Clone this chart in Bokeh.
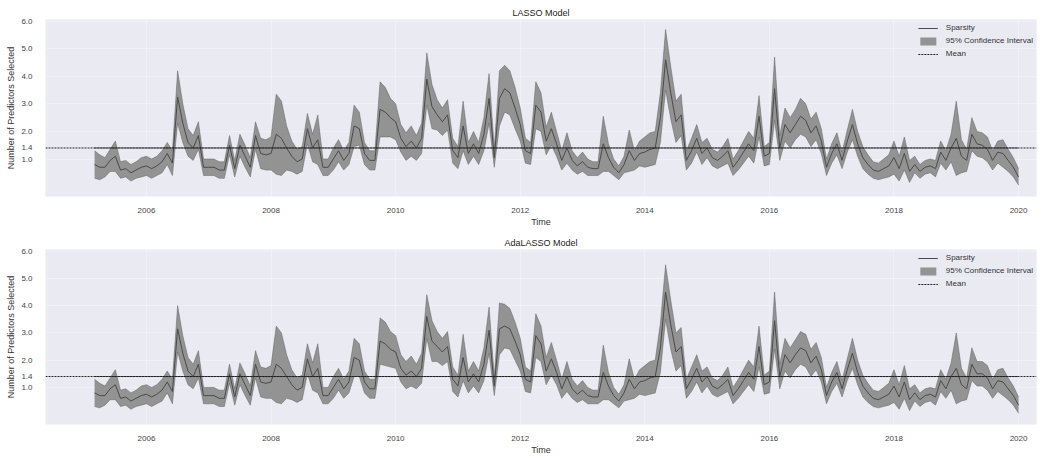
import pandas as pd
from bokeh.plotting import figure
from bokeh.layouts import column
from bokeh.models import FixedTicker, PrintfTickFormatter, Span, Range1d
from bokeh.embed import file_html
from bokeh.resources import INLINE

# ---------------- data (monthly, Mar 2005 .. Jan 2020) ----------------
START_MONTH = "2005-03-01"
TITLES = ["LASSO Model", "AdaLASSO Model"]
Y_TICKS = [1.0, 1.4, 2.0, 3.0, 4.0, 5.0, 6.0]
X_TICKS = [2006, 2008, 2010, 2012, 2014, 2016, 2018, 2020]
MEAN_LASSO = 1.4
MEAN_ADA = 1.4

lasso_sparsity = [
    0.8, 0.7, 0.7, 0.95, 1.1, 0.6, 0.65, 0.5, 0.6, 0.7,
    0.75, 0.65, 0.75, 0.9, 1.2, 0.85, 3.25, 2.3, 1.6, 1.4, 1.85, 0.7,
    0.7, 0.7, 0.6, 0.6, 1.5, 0.65, 1.5, 1.1, 0.7, 1.85, 1.2, 1.15,
    1.2, 1.9, 1.75, 1.4, 1.1, 0.9, 1.0, 2.1, 1.4, 1.7, 0.7, 0.7,
    1.0, 1.3, 0.95, 1.2, 2.2, 2.1, 1.2, 0.95, 0.95, 2.8, 2.7, 2.5,
    2.35, 1.75, 1.45, 1.65, 1.4, 1.75, 3.9, 2.9, 2.6, 2.35, 2.6, 1.3,
    1.05, 2.2, 1.2, 1.55, 1.2, 1.9, 3.2, 1.05, 3.2, 3.55, 3.4, 2.85,
    2.25, 1.3, 1.2, 2.95, 2.7, 1.65, 2.1, 1.55, 0.95, 1.4, 0.95, 0.75,
    0.9, 0.7, 0.65, 0.65, 1.55, 1.05, 0.7, 0.5, 0.8, 1.3, 0.95, 1.2,
    1.25, 1.35, 1.4, 2.5, 4.6, 3.4, 2.35, 2.6, 0.95, 1.3, 1.75, 1.2,
    1.4, 1.05, 0.95, 1.1, 1.3, 0.7, 0.95, 1.25, 1.55, 1.3, 2.55, 1.1,
    1.2, 3.55, 1.4, 2.25, 1.95, 2.25, 2.55, 2.4, 1.95, 2.2, 1.65, 0.7,
    1.2, 1.55, 0.95, 1.65, 2.25, 1.55, 1.05, 0.8, 0.6, 0.55, 0.65, 0.75,
    1.05, 0.65, 1.2, 0.55, 0.8, 0.55, 0.7, 0.75, 0.65, 1.25, 0.95, 1.4,
    1.75, 1.1, 0.95, 1.9, 1.55, 1.5, 1.35, 0.95, 1.25, 1.2, 0.95, 0.7,
    0.35,
]
lasso_halfwidth = [
    0.5, 0.45, 0.35, 0.4, 0.55, 0.3, 0.3, 0.3, 0.3, 0.35,
    0.35, 0.35, 0.35, 0.4, 0.4, 0.45, 0.95, 0.7, 0.5, 0.45, 0.5, 0.3,
    0.3, 0.3, 0.3, 0.3, 0.35, 0.3, 0.4, 0.4, 0.35, 0.5, 0.55, 0.55,
    0.6, 1.45, 1.35, 0.8, 0.55, 0.45, 0.45, 0.55, 0.5, 0.9, 0.3, 0.3,
    0.4, 0.4, 0.35, 0.4, 0.75, 0.6, 0.4, 0.35, 0.35, 1.0, 0.9, 0.7,
    0.65, 0.5, 0.5, 0.55, 0.45, 0.55, 0.95, 0.8, 0.55, 0.5, 0.55, 0.45,
    0.4, 0.9, 0.4, 0.45, 0.4, 0.6, 0.9, 0.35, 1.0, 0.85, 0.8, 0.75,
    0.6, 0.45, 0.4, 0.85, 0.7, 0.5, 0.6, 0.45, 0.35, 0.55, 0.35, 0.3,
    0.35, 0.3, 0.25, 0.25, 1.0, 0.5, 0.3, 0.25, 0.3, 0.75, 0.35, 0.45,
    0.55, 0.6, 0.6, 0.9, 1.1, 0.95, 0.75, 0.75, 0.35, 0.45, 0.5, 0.4,
    0.35, 0.3, 0.3, 0.35, 0.45, 0.3, 0.35, 0.4, 0.45, 0.45, 0.75, 0.35,
    0.4, 1.15, 0.45, 0.6, 0.55, 0.55, 0.65, 0.6, 0.5, 0.5, 0.45, 0.3,
    0.35, 0.4, 0.3, 0.4, 0.55, 0.45, 0.4, 0.35, 0.3, 0.3, 0.35, 0.4,
    0.6, 0.45, 0.6, 0.4, 0.3, 0.25, 0.25, 0.25, 0.3, 0.4, 0.35, 0.5,
    1.35, 0.6, 0.4, 0.6, 0.45, 0.45, 0.45, 0.35, 0.4, 0.5, 0.4, 0.35,
    0.3,
]
ada_sparsity = [
    0.8, 0.7, 0.7, 0.95, 1.1, 0.6, 0.65, 0.5, 0.6, 0.7,
    0.75, 0.65, 0.75, 0.9, 1.2, 0.85, 3.15, 2.25, 1.6, 1.4, 1.85, 0.7,
    0.7, 0.7, 0.6, 0.6, 1.5, 0.65, 1.5, 1.1, 0.7, 1.85, 1.2, 1.15,
    1.2, 1.85, 1.7, 1.4, 1.1, 0.9, 1.0, 2.05, 1.4, 1.7, 0.7, 0.7,
    1.0, 1.3, 0.95, 1.2, 2.1, 2.0, 1.2, 0.95, 0.95, 2.7, 2.6, 2.4,
    2.3, 1.7, 1.45, 1.6, 1.4, 1.7, 3.6, 2.7, 2.5, 2.3, 2.5, 1.3,
    1.05, 2.1, 1.2, 1.5, 1.2, 1.85, 3.1, 1.05, 3.15, 3.25, 3.15, 2.7,
    2.2, 1.3, 1.2, 2.9, 2.6, 1.6, 2.05, 1.55, 0.95, 1.4, 0.95, 0.75,
    0.9, 0.7, 0.65, 0.65, 1.55, 1.05, 0.7, 0.5, 0.8, 1.3, 0.95, 1.2,
    1.25, 1.35, 1.4, 2.45, 4.5, 3.3, 2.3, 2.5, 0.95, 1.3, 1.7, 1.2,
    1.4, 1.05, 0.95, 1.1, 1.3, 0.7, 0.95, 1.25, 1.55, 1.3, 2.5, 1.1,
    1.2, 3.45, 1.4, 2.2, 1.9, 2.2, 2.45, 2.35, 1.9, 2.15, 1.65, 0.7,
    1.2, 1.55, 0.95, 1.65, 2.25, 1.55, 1.05, 0.8, 0.6, 0.55, 0.65, 0.75,
    1.05, 0.65, 1.2, 0.55, 0.8, 0.55, 0.7, 0.75, 0.65, 1.25, 0.95, 1.4,
    1.7, 1.1, 0.95, 1.85, 1.5, 1.5, 1.35, 0.95, 1.25, 1.2, 0.95, 0.7,
    0.35,
]
ada_halfwidth = [
    0.5, 0.45, 0.35, 0.4, 0.55, 0.3, 0.3, 0.3, 0.3, 0.35,
    0.35, 0.35, 0.35, 0.4, 0.4, 0.45, 0.85, 0.65, 0.5, 0.45, 0.5, 0.3,
    0.3, 0.3, 0.3, 0.3, 0.35, 0.3, 0.4, 0.4, 0.35, 0.5, 0.55, 0.55,
    0.6, 1.4, 1.3, 0.8, 0.55, 0.45, 0.45, 0.55, 0.5, 0.9, 0.3, 0.3,
    0.4, 0.4, 0.35, 0.4, 0.7, 0.6, 0.4, 0.35, 0.35, 0.85, 0.8, 0.65,
    0.6, 0.5, 0.5, 0.55, 0.45, 0.55, 0.8, 0.75, 0.55, 0.5, 0.55, 0.45,
    0.4, 0.85, 0.4, 0.45, 0.4, 0.6, 0.85, 0.35, 0.95, 0.8, 0.75, 0.7,
    0.6, 0.45, 0.4, 0.8, 0.65, 0.5, 0.6, 0.45, 0.35, 0.55, 0.35, 0.3,
    0.35, 0.3, 0.25, 0.25, 1.0, 0.5, 0.3, 0.25, 0.3, 0.75, 0.35, 0.45,
    0.55, 0.6, 0.6, 0.9, 1.0, 0.9, 0.7, 0.7, 0.35, 0.45, 0.5, 0.4,
    0.35, 0.3, 0.3, 0.35, 0.45, 0.3, 0.35, 0.4, 0.45, 0.45, 0.75, 0.35,
    0.4, 1.05, 0.45, 0.6, 0.55, 0.55, 0.6, 0.6, 0.5, 0.5, 0.45, 0.3,
    0.35, 0.4, 0.3, 0.4, 0.55, 0.45, 0.4, 0.35, 0.3, 0.3, 0.35, 0.4,
    0.6, 0.45, 0.6, 0.4, 0.3, 0.25, 0.25, 0.25, 0.3, 0.4, 0.35, 0.5,
    1.3, 0.6, 0.4, 0.6, 0.45, 0.45, 0.45, 0.35, 0.4, 0.5, 0.4, 0.35,
    0.3,
]

# ---------------- build ----------------
dates = pd.date_range(START_MONTH, periods=len(lasso_sparsity), freq="MS")
xs = [d.year + (d.month - 1) / 12.0 for d in dates]

FONT = "Liberation Sans"
BG = "#eaeaf2"


def make_panel(title, sparsity, halfwidth, mean_val, frame_h, top_border, bottom_border):
    lower = [m - h for m, h in zip(sparsity, halfwidth)]
    upper = [m + h for m, h in zip(sparsity, halfwidth)]
    p = figure(frame_width=991, frame_height=frame_h, output_backend="svg", toolbar_location=None,
               x_range=Range1d(2004.379, 2020.288), y_range=Range1d(-0.36, 6.06),
               min_border_left=45, min_border_right=2,
               min_border_top=top_border, min_border_bottom=bottom_border)
    p.title.text = title
    p.title.align = "center"
    p.title.text_font = FONT
    p.title.text_font_size = "9px"
    p.title.text_font_style = "normal"
    p.title.text_color = "#222222"
    p.title.standoff = 4
    p.title.offset = 0

    p.background_fill_color = BG
    p.border_fill_color = "white"
    p.outline_line_color = None

    for ax in (p.xaxis[0], p.yaxis[0]):
        ax.axis_line_color = None
        ax.major_tick_line_color = None
        ax.minor_tick_line_color = None
        ax.major_label_text_font = FONT
        ax.major_label_text_font_size = "8px"
        ax.major_label_text_color = "#444444"
        ax.axis_label_text_font = FONT
        ax.axis_label_text_font_size = "9px"
        ax.axis_label_text_font_style = "normal"
        ax.axis_label_text_color = "#333333"

    p.xaxis.ticker = FixedTicker(ticks=X_TICKS)
    p.xaxis.formatter = PrintfTickFormatter(format="%d")
    p.xaxis.axis_label = "Time"
    p.xaxis.major_label_standoff = 5
    p.xaxis.axis_label_standoff = 1

    p.yaxis.ticker = FixedTicker(ticks=Y_TICKS)
    p.yaxis.formatter = PrintfTickFormatter(format="%.1f")
    p.yaxis.axis_label = "Number of Predictors Selected"
    p.yaxis.major_label_standoff = 7
    p.yaxis.axis_label_standoff = 2

    p.xgrid.grid_line_color = "white"
    p.ygrid.grid_line_color = "white"
    p.xgrid.grid_line_alpha = 0.3
    p.ygrid.grid_line_alpha = 0.3

    p.varea(x=xs, y1=lower, y2=upper, fill_color="#7a7a7a", fill_alpha=0.78,
            legend_label="95% Confidence Interval")
    p.line(xs, lower, line_color="#5e5e5e", line_width=0.6, line_alpha=0.8)
    p.line(xs, upper, line_color="#5e5e5e", line_width=0.6, line_alpha=0.8)
    p.line(xs, sparsity, line_color="#4a4a4a", line_width=1, legend_label="Sparsity")
    p.add_layout(Span(location=mean_val, dimension="width", line_color="#222222",
                      line_dash="2 1", line_width=1))
    p.line([xs[0], xs[-1]], [mean_val, mean_val], line_color="#222222", line_dash="2 1",
           line_width=1, legend_label="Mean")

    legend = p.legend[0]
    legend.items = [legend.items[1], legend.items[0], legend.items[2]]
    legend.location = "top_right"
    legend.background_fill_alpha = 0.0
    legend.border_line_color = None
    legend.label_text_font = FONT
    legend.label_text_font_size = "8px"
    legend.label_text_color = "#333333"
    legend.label_height = 11
    legend.glyph_height = 10
    legend.glyph_width = 20
    legend.spacing = 2
    legend.padding = 2
    legend.margin = 3
    legend.label_standoff = 8
    return p


p1 = make_panel(TITLES[0], lasso_sparsity, lasso_halfwidth, MEAN_LASSO, 177, 19, 28)
p2 = make_panel(TITLES[1], ada_sparsity, ada_halfwidth, MEAN_ADA, 175, 20, 28)

layout = column(p1, p2, spacing=0)
open("out.html", "w").write(file_html(layout, INLINE))
